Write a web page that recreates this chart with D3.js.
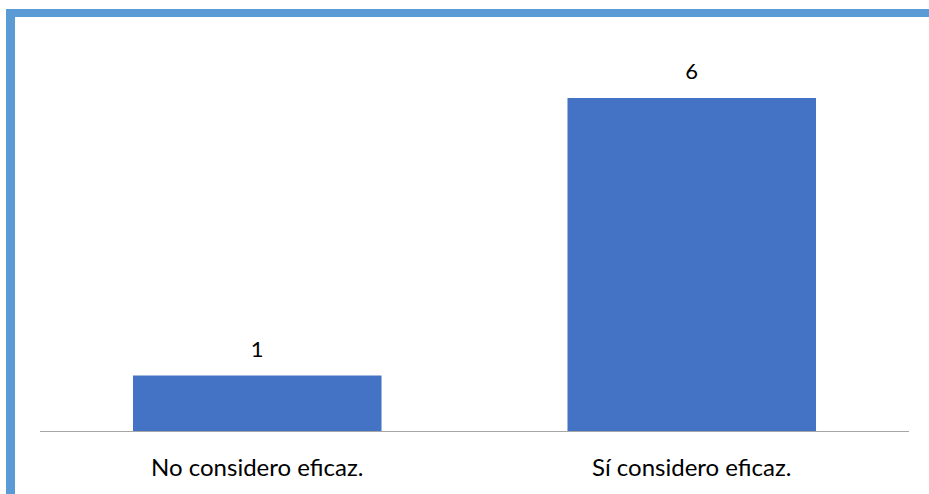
<!DOCTYPE html>
<html lang="es">
<head>
    <meta charset="UTF-8">
    <title>Eficacia</title>
    <style>
        body { margin: 0; padding: 0; background: #fff; }
        svg { display: block; }
    </style>
</head>
<body>
<svg id="chart"></svg>
<script src="https://d3js.org/d3.v7.min.js"></script>
<script>
    var categories = ["No considero eficaz.", "Sí considero eficaz."];
    var values = [1, 6];

    var W = 929, H = 494;
    var margin = {top: 42.5, right: 20, bottom: 63, left: 40};
    var width = W - margin.left - margin.right,
        height = H - margin.top - margin.bottom;

    var svg = d3.select("#chart").attr("width", W).attr("height", H);

    // frame (top and left edges visible)
    svg.append("rect").attr("x", 6).attr("y", 9).attr("width", W - 6).attr("height", 8).attr("fill", "#5B9BD5");
    svg.append("rect").attr("x", 6).attr("y", 9).attr("width", 9).attr("height", H - 9).attr("fill", "#5B9BD5");

    var g = svg.append("g").attr("transform", "translate(" + margin.left + "," + margin.top + ")");

    var x = d3.scaleBand().domain(categories).range([0, width]).paddingInner(0.428).paddingOuter(0.214);
    var y = d3.scaleLinear().domain([0, 7]).range([height, 0]);

    g.selectAll(".bar").data(values).enter()
        .append("rect")
        .attr("class", "bar")
        .attr("x", (d, i) => x(categories[i]))
        .attr("y", d => y(d))
        .attr("width", x.bandwidth())
        .attr("height", d => height - y(d))
        .attr("fill", "#4472C4");

    g.append("line")
        .attr("x1", 0).attr("x2", width)
        .attr("y1", height + 0.5).attr("y2", height + 0.5)
        .attr("stroke", "#A6A6A6").attr("stroke-width", 1.2);

    g.selectAll(".val").data(values).enter()
        .append("text")
        .attr("x", (d, i) => x(categories[i]) + x.bandwidth() / 2)
        .attr("y", d => y(d) - 19)
        .attr("text-anchor", "middle")
        .style("font-family", "Lato, 'Open Sans', sans-serif")
        .style("font-size", "22px")
        .attr("fill", "#000")
        .text(d => d);

    g.selectAll(".cat").data(categories).enter()
        .append("text")
        .attr("x", d => x(d) + x.bandwidth() / 2)
        .attr("y", height + 45)
        .attr("text-anchor", "middle")
        .style("font-family", "Lato, 'Open Sans', sans-serif")
        .style("font-size", "24px")
        .attr("fill", "#000")
        .text(d => d);
</script>
</body>
</html>
